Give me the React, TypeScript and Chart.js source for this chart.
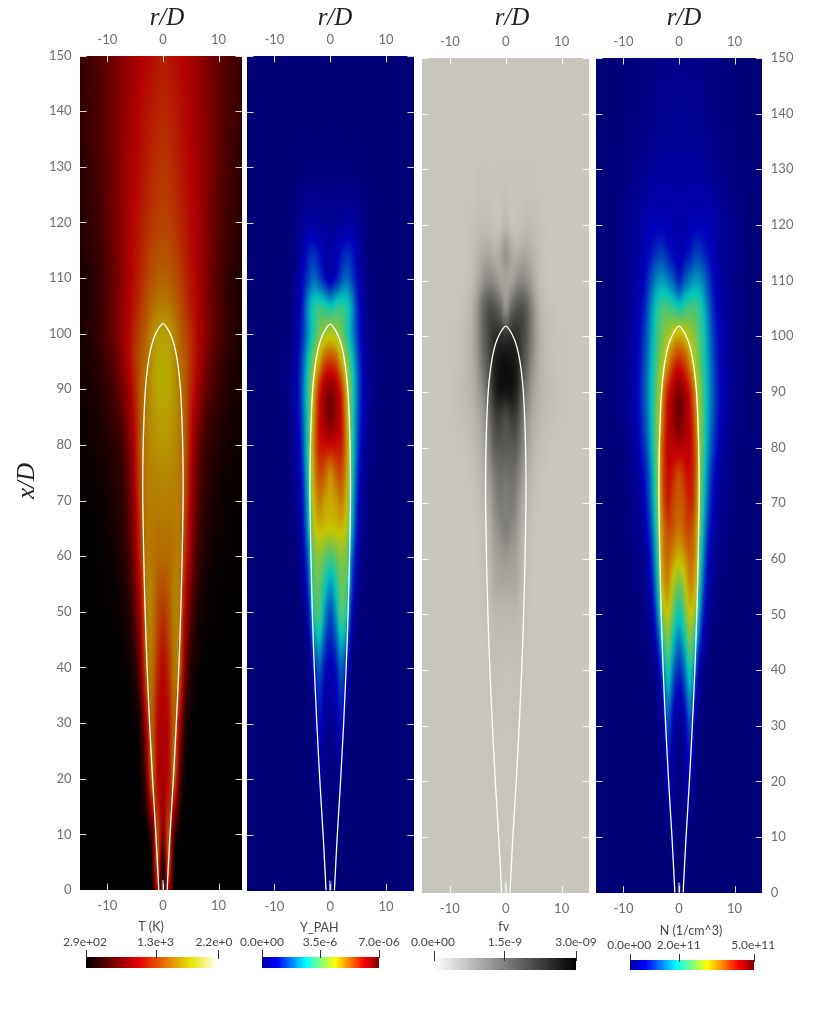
import React, { useEffect, useRef } from "react";
import { Chart, registerables } from "chart.js";
Chart.register(...registerables);

const W = 837;
const H = 1013;

// half-plane sample nodes (r/D >= 0, field mirrored about the axis)
const rNodes = [0, 1, 2, 3, 4, 5, 6, 7, 8, 10, 12, 15];
const xNodes = [0, 5, 10, 20, 30, 40, 50, 55, 60, 65, 70, 75, 80, 85, 90, 95, 100, 105, 110, 115, 120, 130, 140, 150];

// values in percent of each colour bar's span, one row per xNodes entry
const tempField = [
  [0, 40, 0, 0, 0, 0, 0, 0, 0, 0, 0, 0],
  [5, 60, 5, 0, 0, 0, 0, 0, 0, 0, 0, 0],
  [25, 60, 15, 1, 0, 0, 0, 0, 0, 0, 0, 0],
  [37, 42, 62, 20, 2, 0, 0, 0, 0, 0, 0, 0],
  [39, 42, 62, 40, 8, 2, 0, 0, 0, 0, 0, 0],
  [42, 50, 66, 62, 26, 9, 3, 1, 0, 0, 0, 0],
  [52, 58, 68, 66, 38, 20, 8, 4, 2, 1, 0, 0],
  [58, 61, 68, 67, 44, 26, 12, 6, 3, 1, 1, 0],
  [64, 64, 66, 67, 50, 32, 16, 9, 5, 2, 1, 0],
  [66, 66, 67, 67, 53, 35, 19, 11, 7, 3, 1, 0],
  [69, 68, 68, 67, 56, 38, 22, 13, 8, 4, 2, 1],
  [71, 70, 69, 67, 58, 40, 25, 15, 10, 5, 3, 1],
  [74, 73, 71, 67, 60, 42, 28, 18, 12, 7, 4, 2],
  [76, 75, 72, 67, 60, 45, 33, 23, 16, 9, 5, 2],
  [78, 77, 73, 67, 60, 48, 38, 28, 21, 12, 7, 3],
  [78, 77, 72, 65, 59, 51, 42, 33, 25, 15, 8, 4],
  [76, 75, 70, 62, 56, 50, 42, 35, 28, 18, 10, 5],
  [68, 67, 63, 58, 52, 46, 40, 34, 28, 18, 10, 6],
  [62, 61, 58, 54, 49, 44, 39, 33, 27, 18, 10, 6],
  [58, 57, 55, 51, 47, 43, 38, 33, 28, 19, 12, 7],
  [55, 54, 52, 49, 46, 42, 38, 33, 28, 20, 13, 8],
  [52, 51, 49, 46, 43, 40, 37, 33, 29, 21, 15, 9],
  [49, 48, 46, 44, 41, 38, 35, 32, 28, 22, 16, 11],
  [46, 45, 43, 41, 39, 36, 34, 31, 27, 22, 17, 12],
];
const pahField = [
  [0, 0, 0, 0, 0, 0, 0, 0, 0, 0, 0, 0],
  [0, 0, 0, 0, 0, 0, 0, 0, 0, 0, 0, 0],
  [0, 2, 0, 0, 0, 0, 0, 0, 0, 0, 0, 0],
  [1, 3, 5, 1, 0, 0, 0, 0, 0, 0, 0, 0],
  [4, 7, 14, 3, 0, 0, 0, 0, 0, 0, 0, 0],
  [11, 15, 25, 14, 1, 0, 0, 0, 0, 0, 0, 0],
  [22, 32, 48, 38, 10, 2, 0, 0, 0, 0, 0, 0],
  [32, 40, 50, 46, 18, 5, 1, 0, 0, 0, 0, 0],
  [46, 50, 55, 50, 24, 8, 2, 0, 0, 0, 0, 0],
  [62, 63, 64, 58, 32, 11, 3, 1, 0, 0, 0, 0],
  [66, 68, 72, 62, 36, 14, 5, 1, 0, 0, 0, 0],
  [70, 76, 78, 66, 40, 17, 7, 2, 0, 0, 0, 0],
  [86, 86, 84, 68, 42, 20, 8, 3, 1, 0, 0, 0],
  [98, 93, 86, 66, 42, 22, 10, 4, 1, 0, 0, 0],
  [96, 92, 82, 62, 42, 24, 11, 5, 2, 0, 0, 0],
  [80, 78, 66, 54, 38, 22, 10, 4, 2, 0, 0, 0],
  [60, 58, 52, 42, 30, 18, 8, 3, 1, 0, 0, 0],
  [38, 42, 43, 40, 30, 16, 7, 2, 0, 0, 0, 0],
  [10, 15, 22, 26, 20, 12, 5, 2, 0, 0, 0, 0],
  [8, 10, 14, 17, 15, 9, 4, 1, 0, 0, 0, 0],
  [5, 6, 7, 8, 8, 5, 3, 1, 0, 0, 0, 0],
  [1, 1, 1, 1, 1, 1, 0, 0, 0, 0, 0, 0],
  [0, 0, 0, 0, 0, 0, 0, 0, 0, 0, 0, 0],
  [0, 0, 0, 0, 0, 0, 0, 0, 0, 0, 0, 0],
];
const fvField = [
  [0, 0, 0, 0, 0, 0, 0, 0, 0, 0, 0, 0],
  [0, 0, 0, 0, 0, 0, 0, 0, 0, 0, 0, 0],
  [0, 0, 0, 0, 0, 0, 0, 0, 0, 0, 0, 0],
  [0, 0, 0, 0, 0, 0, 0, 0, 0, 0, 0, 0],
  [1, 1, 1, 0, 0, 0, 0, 0, 0, 0, 0, 0],
  [2, 3, 3, 1, 0, 0, 0, 0, 0, 0, 0, 0],
  [7, 7, 7, 3, 1, 0, 0, 0, 0, 0, 0, 0],
  [14, 14, 12, 5, 2, 0, 0, 0, 0, 0, 0, 0],
  [22, 20, 16, 7, 3, 1, 0, 0, 0, 0, 0, 0],
  [36, 30, 22, 10, 4, 1, 0, 0, 0, 0, 0, 0],
  [35, 38, 30, 14, 7, 3, 1, 0, 0, 0, 0, 0],
  [42, 44, 38, 22, 11, 5, 2, 1, 0, 0, 0, 0],
  [55, 55, 52, 32, 16, 8, 4, 2, 1, 0, 0, 0],
  [60, 68, 64, 42, 22, 12, 7, 4, 3, 1, 0, 0],
  [88, 90, 80, 54, 32, 18, 10, 6, 4, 1, 0, 0],
  [92, 90, 84, 62, 44, 24, 11, 6, 3, 1, 0, 0],
  [75, 78, 76, 65, 50, 28, 12, 6, 3, 1, 0, 0],
  [25, 48, 58, 60, 48, 26, 10, 4, 2, 0, 0, 0],
  [18, 18, 28, 32, 26, 14, 5, 2, 0, 0, 0, 0],
  [25, 14, 10, 14, 13, 8, 4, 1, 0, 0, 0, 0],
  [8, 2, 2, 4, 5, 4, 2, 1, 0, 0, 0, 0],
  [1, 1, 1, 1, 1, 1, 0, 0, 0, 0, 0, 0],
  [0, 0, 0, 0, 0, 0, 0, 0, 0, 0, 0, 0],
  [0, 0, 0, 0, 0, 0, 0, 0, 0, 0, 0, 0],
];
const numberField = [
  [0, 0, 0, 0, 0, 0, 0, 0, 0, 0, 0, 0],
  [0, 2, 0, 0, 0, 0, 0, 0, 0, 0, 0, 0],
  [0, 4, 1, 0, 0, 0, 0, 0, 0, 0, 0, 0],
  [2, 5, 10, 2, 0, 0, 0, 0, 0, 0, 0, 0],
  [5, 10, 22, 6, 1, 0, 0, 0, 0, 0, 0, 0],
  [18, 26, 42, 22, 6, 2, 0, 0, 0, 0, 0, 0],
  [38, 48, 62, 52, 24, 8, 3, 1, 0, 0, 0, 0],
  [50, 58, 70, 62, 32, 13, 5, 2, 1, 0, 0, 0],
  [64, 68, 74, 68, 38, 17, 8, 3, 2, 0, 0, 0],
  [72, 76, 78, 70, 44, 22, 11, 5, 3, 1, 0, 0],
  [76, 78, 84, 74, 48, 27, 14, 7, 4, 1, 0, 0],
  [78, 83, 86, 76, 50, 30, 17, 10, 5, 2, 0, 0],
  [90, 89, 88, 76, 52, 34, 21, 13, 7, 2, 1, 0],
  [99, 93, 88, 72, 52, 36, 24, 15, 9, 3, 1, 0],
  [97, 92, 84, 68, 50, 37, 25, 16, 10, 4, 1, 0],
  [84, 80, 70, 58, 47, 35, 24, 15, 9, 4, 1, 0],
  [66, 64, 58, 52, 44, 33, 22, 14, 9, 3, 1, 0],
  [40, 44, 46, 46, 40, 30, 19, 12, 8, 3, 1, 0],
  [17, 24, 29, 32, 30, 23, 15, 10, 7, 3, 1, 0],
  [11, 13, 16, 20, 19, 15, 12, 8, 6, 3, 1, 0],
  [9, 10, 11, 12, 12, 12, 10, 8, 6, 3, 1, 0],
  [7, 7, 7, 7, 7, 6, 5, 4, 3, 2, 1, 0],
  [5, 5, 5, 5, 4, 3, 3, 2, 2, 1, 0, 0],
  [3, 3, 3, 3, 3, 2, 2, 2, 1, 1, 0, 0],
];

// stoichiometric contour, half-width against height
const contourX = [0, 5, 10, 20, 30, 40, 50, 60, 70, 75, 80, 85, 90, 94, 97, 99, 100.5, 101.5, 101.8];
const contourR = [0.75, 1.0, 1.27, 1.87, 2.4, 2.85, 3.2, 3.45, 3.62, 3.62, 3.55, 3.4, 3.15, 2.75, 2.25, 1.7, 1.05, 0.4, 0];
// short stubs at the nozzle
const stubX = [0, 1.8];
const stubR = [0.12, 0.12];

const rTicks = [-10, 0, 10];
const xTickStep = 10;
const xMax = 150;

type Stop = number[];
const blackBody: Stop[] = [[0, 0, 0, 0], [0.4, 230, 0, 0], [0.8, 230, 230, 0], [1, 255, 255, 255]];
const jet: Stop[] = [[0, 0, 0, 160], [0.125, 0, 0, 255], [0.375, 0, 255, 255], [0.625, 255, 255, 0], [0.875, 255, 0, 0], [1, 128, 0, 0]];
const grays: Stop[] = [[0, 255, 255, 255], [1, 0, 0, 0]];

const lighting = [0.785, 0.773, 0.737];

function colour(map: Stop[], t: number): number[] {
  const v = Math.max(0, Math.min(1, t));
  for (let i = 0; i < map.length - 1; i++) {
    if (v <= map[i + 1][0]) {
      const f = (v - map[i][0]) / (map[i + 1][0] - map[i][0]);
      return [1, 2, 3].map((c) => map[i][c] + (map[i + 1][c] - map[i][c]) * f);
    }
  }
  return map[map.length - 1].slice(1);
}

function hermite(xs: number[], ys: number[], t: number): number {
  const n = xs.length;
  if (t <= xs[0]) return ys[0];
  if (t >= xs[n - 1]) return ys[n - 1];
  let k = 0;
  while (k < n - 2 && t > xs[k + 1]) k++;
  const h = xs[k + 1] - xs[k];
  const s = (t - xs[k]) / h;
  const a = k > 0 ? k - 1 : k;
  const b = k + 2 < n ? k + 2 : k + 1;
  const m0 = (ys[k + 1] - ys[a]) / (xs[k + 1] - xs[a]);
  const m1 = (ys[b] - ys[k]) / (xs[b] - xs[k]);
  const s2 = s * s;
  const s3 = s2 * s;
  return (2 * s3 - 3 * s2 + 1) * ys[k] + (s3 - 2 * s2 + s) * h * m0 + (-2 * s3 + 3 * s2) * ys[k + 1] + (s3 - s2) * h * m1;
}

const fontTicks = "Lato";
const tickColour = "#6e6e6e";
const textColour = "#444";

interface Panel {
  field: number[][];
  map: Stop[];
  left: number; right: number; top: number; bottom: number;
  rMin: number; rMax: number;
  showLeft: boolean; showRight: boolean;
  titleX: number;
  bar: { x0: number; x1: number; y0: number; y1: number; tickTop: number; tickBottom: number; midX: number; labelY: number; titleX: number; titleY: number; title: string; labels: string[]; labelX: number[] };
}

const panels: Panel[] = [
  {
    field: tempField, map: blackBody, left: 80, right: 242, top: 55.5, bottom: 890, rMin: -14.9, rMax: 14.2,
    showLeft: true, showRight: false, titleX: 167,
    bar: { x0: 86, x1: 217.5, y0: 957, y1: 968, tickTop: 950, tickBottom: 959, midX: 155.7, labelY: 942, titleX: 151, titleY: 927, title: "T (K)", labels: ["2.9e+02", "1.3e+3", "2.2e+0"], labelX: [85, 155.5, 214] },
  },
  {
    field: pahField, map: jet, left: 247, right: 414, top: 56, bottom: 890.6, rMin: -14.9, rMax: 15,
    showLeft: false, showRight: false, titleX: 335,
    bar: { x0: 262.3, x1: 378.7, y0: 957, y1: 968, tickTop: 950, tickBottom: 958, midX: 320.3, labelY: 942, titleX: 319.3, titleY: 928, title: "Y_PAH", labels: ["0.0e+00", "3.5e-6", "7.0e-06"], labelX: [262, 320, 379] },
  },
  {
    field: fvField, map: grays, left: 422, right: 589, top: 58, bottom: 892.7, rMin: -15, rMax: 14.9,
    showLeft: false, showRight: false, titleX: 512,
    bar: { x0: 434, x1: 575.7, y0: 958, y1: 970, tickTop: 951, tickBottom: 961, midX: 504.3, labelY: 942, titleX: 503.7, titleY: 927, title: "fv", labels: ["0.0e+00", "1.5e-9", "3.0e-09"], labelX: [433, 505, 576] },
  },
  {
    field: numberField, map: jet, left: 596, right: 762.3, top: 58, bottom: 892.7, rMin: -14.95, rMax: 15,
    showLeft: false, showRight: true, titleX: 684,
    bar: { x0: 629.7, x1: 754, y0: 960, y1: 970, tickTop: 954, tickBottom: 962, midX: 679, labelY: 945, titleX: 691, titleY: 931, title: "N (1/cm^3)", labels: ["0.0e+00", "2.0e+11", "5.0e+11"], labelX: [629.3, 678.7, 753.3] },
  },
];

function panelPlugin(p: Panel, first: boolean) {
  return {
    id: "panelDecor",
    beforeDatasetsDraw(chart: any) {
      const { ctx, chartArea: a, scales } = chart;
      const x0 = Math.round(a.left);
      const y0 = Math.round(a.top);
      const w = Math.round(a.right) - x0;
      const h = Math.round(a.bottom) - y0;
      const nodes = chart.data.datasets[0].data;
      const nr = rNodes.length;
      const rFull = [...rNodes.slice(1).map((r) => -r).reverse(), ...rNodes];
      const rows = xNodes.map((_, j) => {
        const half = rNodes.map((_, i) => nodes[j * nr + i].v);
        return [...half.slice(1).reverse(), ...half];
      });
      const off = document.createElement("canvas");
      off.width = w;
      off.height = h;
      const octx = off.getContext("2d")!;
      const img = octx.createImageData(w, h);
      const ys = new Array(h);
      for (let py = 0; py < h; py++) ys[py] = scales.y.getValueForPixel(y0 + py + 0.5);
      for (let px = 0; px < w; px++) {
        const r = scales.x.getValueForPixel(x0 + px + 0.5);
        const col = rows.map((row) => hermite(rFull, row, r));
        for (let py = 0; py < h; py++) {
          const v = hermite(xNodes, col, ys[py]);
          const c = colour(p.map, v / 100);
          const o = (py * w + px) * 4;
          img.data[o] = c[0] * lighting[0];
          img.data[o + 1] = c[1] * lighting[1];
          img.data[o + 2] = c[2] * lighting[2];
          img.data[o + 3] = 255;
        }
      }
      octx.putImageData(img, 0, 0);
      ctx.save();
      ctx.beginPath();
      ctx.rect(x0, y0, w, h);
      ctx.clip();
      ctx.drawImage(off, x0, y0);
      ctx.filter = "blur(1px)";
      ctx.drawImage(off, x0, y0);
      ctx.restore();
    },
    afterDraw(chart: any) {
      const { ctx, chartArea: a, scales } = chart;
      ctx.save();
      // inward tick marks on all four edges
      ctx.strokeStyle = "rgba(255,255,255,0.85)";
      ctx.lineWidth = 1;
      const len = 6.5;
      for (const t of scales.x.ticks) {
        const px = Math.round(scales.x.getPixelForValue(t.value)) + 0.5;
        ctx.beginPath();
        ctx.moveTo(px, a.top);
        ctx.lineTo(px, a.top + len);
        ctx.moveTo(px, a.bottom);
        ctx.lineTo(px, a.bottom - len);
        ctx.stroke();
      }
      for (const t of scales.y.ticks) {
        const py = Math.round(scales.y.getPixelForValue(t.value)) + 0.5;
        ctx.beginPath();
        ctx.moveTo(a.left, py);
        ctx.lineTo(a.left + len, py);
        ctx.moveTo(a.right, py);
        ctx.lineTo(a.right - len, py);
        ctx.stroke();
      }
      // axis titles
      ctx.fillStyle = "#222";
      ctx.textAlign = "center";
      ctx.textBaseline = "middle";
      ctx.font = 'italic 25px "Liberation Serif"';
      ctx.fillText("r/D", p.titleX, 18);
      if (first) {
        ctx.save();
        ctx.translate(27, 481);
        ctx.rotate(-Math.PI / 2);
        ctx.fillText("x/D", 0, 0);
        ctx.restore();
      }
      // colour bar
      const b = p.bar;
      for (let px = Math.round(b.x0); px < Math.round(b.x1); px++) {
        const c = colour(p.map, (px + 0.5 - b.x0) / (b.x1 - b.x0));
        ctx.fillStyle = `rgb(${c[0]},${c[1]},${c[2]})`;
        ctx.fillRect(px, b.y0, 1, b.y1 - b.y0);
      }
      ctx.strokeStyle = "#333";
      for (const tx of [b.x0, b.midX, b.x1]) {
        const px = Math.round(tx) + 0.5;
        ctx.beginPath();
        ctx.moveTo(px, b.tickTop);
        ctx.lineTo(px, b.tickBottom);
        ctx.stroke();
      }
      ctx.fillStyle = textColour;
      ctx.font = `12px ${fontTicks}`;
      b.labels.forEach((s, i) => ctx.fillText(s, b.labelX[i], b.labelY));
      ctx.font = `12.5px ${fontTicks}`;
      ctx.fillText(b.title, b.titleX, b.titleY);
      ctx.restore();
    },
  };
}

function makeChart(canvas: HTMLCanvasElement, p: Panel, first: boolean) {
  const pad = 40;
  const fitW = (s: any) => { s.width = pad; };
  const fitH = (s: any) => { s.height = pad; };
  const noGrid = { display: false, drawTicks: false };
  const rAxis = (position: string) => ({
    type: "linear", position, min: p.rMin, max: p.rMax,
    afterFit: fitH,
    afterBuildTicks: (s: any) => { s.ticks = rTicks.map((value) => ({ value })); },
    grid: noGrid, border: { display: false },
    ticks: { autoSkip: false, maxRotation: 0, padding: 8, color: tickColour, font: { family: fontTicks, size: 13 } },
  });
  const xAxis = (position: string, show: boolean) => ({
    type: "linear", position, min: 0, max: xMax,
    afterFit: fitW,
    grid: noGrid, border: { display: false },
    ticks: { display: show, stepSize: xTickStep, autoSkip: false, padding: 8.5, color: tickColour, font: { family: fontTicks, size: 13 } },
  });
  const nodes: any[] = [];
  xNodes.forEach((x, j) => rNodes.forEach((r, i) => nodes.push({ x: r, y: x, v: p.field[j][i] })));
  const flame = [
    ...contourR.map((r, i) => ({ x: -r, y: contourX[i] })),
    ...contourR.slice(0, -1).map((r, i) => ({ x: r, y: contourX[i] })).reverse(),
  ];
  const stubLine = (sign: number) => stubR.map((r, i) => ({ x: sign * r, y: stubX[i] }));
  const lineStyle = { showLine: true, pointRadius: 0 };
  return new Chart(canvas, {
    type: "scatter",
    data: {
      datasets: [
        { label: "field", data: nodes, pointRadius: 0, showLine: false },
        { label: "flame", data: flame, ...lineStyle, borderColor: "#fff", borderWidth: 1.3, tension: 0.2 },
        { label: "stub left", data: stubLine(-1), ...lineStyle, borderColor: "rgba(255,255,255,0.6)", borderWidth: 1 },
        { label: "stub right", data: stubLine(1), ...lineStyle, borderColor: "rgba(255,255,255,0.6)", borderWidth: 1 },
      ],
    },
    options: {
      animation: false,
      responsive: false,
      devicePixelRatio: 1,
      layout: { padding: { left: p.left - pad, right: W - p.right - pad, top: p.top - pad, bottom: H - p.bottom - pad } },
      plugins: { legend: { display: false }, tooltip: { enabled: false }, title: { display: false } },
      scales: {
        x: rAxis("bottom"),
        x2: rAxis("top"),
        y: xAxis("left", p.showLeft),
        y2: xAxis("right", p.showRight),
      },
    } as any,
    plugins: [panelPlugin(p, first)],
  } as any);
}

export default function App() {
  const refs = useRef<(HTMLCanvasElement | null)[]>([]);
  useEffect(() => {
    const charts = panels.map((p, i) => makeChart(refs.current[i]!, p, i === 0));
    return () => charts.forEach((c) => c.destroy());
  }, []);
  return (
    <div style={{ position: "absolute", left: 0, top: 0, width: W, height: H, overflow: "hidden", background: "#fff" }}>
      {panels.map((_, i) => (
        <canvas
          key={i}
          ref={(el) => { refs.current[i] = el; }}
          width={W}
          height={H}
          style={{ position: "absolute", left: 0, top: 0, width: W, height: H, filter: "blur(0.4px)" }}
        />
      ))}
    </div>
  );
}
